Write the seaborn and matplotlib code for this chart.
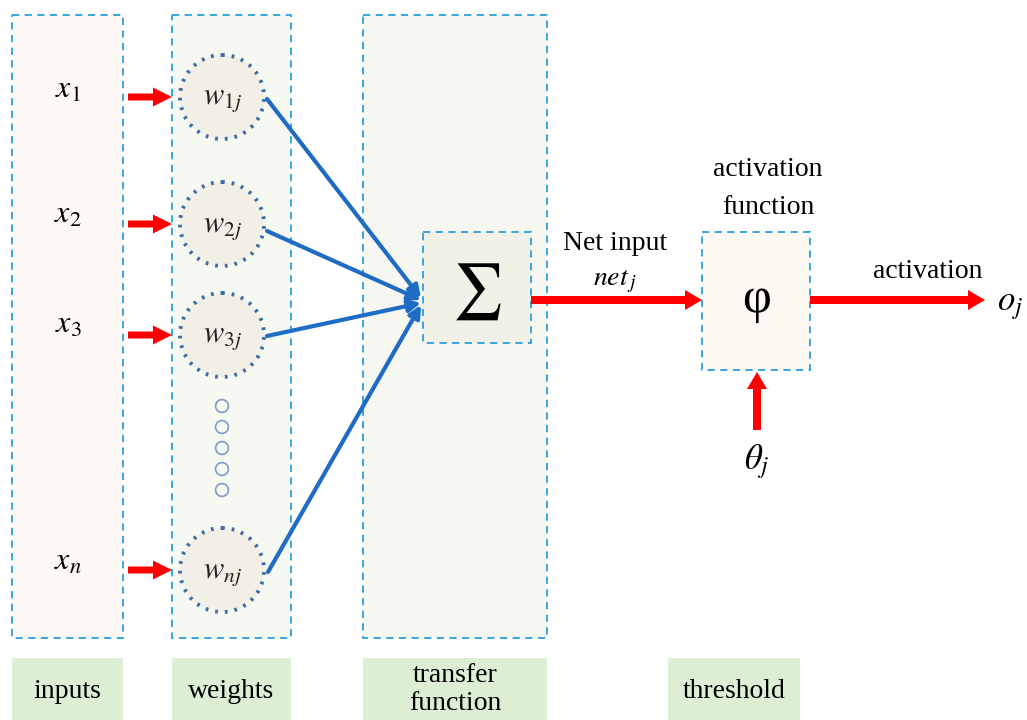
import matplotlib
matplotlib.use("Agg")
import matplotlib.pyplot as plt
import seaborn as sns
from matplotlib.patches import Rectangle, Circle, FancyArrow

# labels / content
input_labels = [r"$x_1$", r"$x_2$", r"$x_3$", r"$x_n$"]
weight_labels = [r"$w_{1j}$", r"$w_{2j}$", r"$w_{3j}$", r"$w_{nj}$"]
stage_labels = ["inputs", "weights", "transfer\nfunction", "threshold"]

# layout (pixel coordinates, y downward)
row_y = [97, 224, 335, 570]
label_y = [90, 215, 325, 562]
dots_y = [406, 427, 448, 469, 490]
stage_x = [(12, 123), (172, 291), (363, 547), (668, 800)]

sns.set_theme(style="white")
plt.rcParams["font.family"] = ["Liberation Serif", "DejaVu Serif"]
plt.rcParams["mathtext.fontset"] = "stix"
plt.rcParams["text.color"] = "black"

fig = plt.figure(figsize=(10.27, 7.2), dpi=100)
ax = fig.add_axes([0, 0, 1, 1])

dash = "#2a9fdc"
red = "#ff0000"
blue = "#1f6cc4"

def dbox(x0, y0, x1, y1, fc):
    ax.add_patch(Rectangle((x0, y0), x1 - x0, y1 - y0, fc=fc, ec=dash,
                           lw=1.3, ls=(0, (4, 3)), zorder=1))

def red_arrow(x, y, dx, dy, w=8, hw=20, hl=17):
    ax.add_patch(FancyArrow(x, y, dx, dy, width=w, head_width=hw, head_length=hl,
                            length_includes_head=True, color=red, lw=0, zorder=4))

# ellipsis dots between w3j and wnj
sns.scatterplot(x=[222] * len(dots_y), y=dots_y, ax=ax, s=85, marker="o",
                fc="none", ec="#7a9cc6", linewidth=1.2, zorder=3, legend=False)

dbox(12, 15, 123, 638, "#fdf8f5")
dbox(172, 15, 291, 638, "#f6f8f2")
dbox(363, 15, 547, 638, "#f6f7f0")
dbox(423, 232, 531, 343, "#f1f1e7")
dbox(702, 232, 810, 370, "#fcf8f2")

# bottom stage label boxes
for (x0, x1), lab in zip(stage_x, stage_labels):
    ax.add_patch(Rectangle((x0, 658), x1 - x0, 80, fc="#dcefd4", ec="none", zorder=1))
    if "\n" in lab:
        a, b = lab.split("\n")
        ax.text((x0 + x1) / 2, 675, a, ha="center", va="center", fontsize=20)
        ax.text((x0 + x1) / 2, 704, b, ha="center", va="center", fontsize=20)
    else:
        ax.text((x0 + x1) / 2, 692, lab, ha="center", va="center", fontsize=20)

# inputs, arrows, weight circles
for lab, wl, ry, ly in zip(input_labels, weight_labels, row_y, label_y):
    ax.text(68, ly, lab, ha="center", va="center", fontsize=23)
    red_arrow(128, ry, 44, 0, w=7, hw=19, hl=19)
    ax.add_patch(Circle((222, ry), 42, fc="#f2f0e6", ec="#3b6ca3", lw=2.8,
                        ls=(0, (0.7, 1.8)), zorder=3))
    ax.text(222, ry + 3, wl, ha="center", va="center", fontsize=22, color="#222222", zorder=5)

# blue connections into sigma
starts = [(267, 99), (267, 231), (267, 336), (268, 572)]
ends = [(421, 298), (421, 300), (421, 303), (421, 305)]
for (sx, sy), (ex, ey) in zip(starts, ends):
    ax.annotate("", xy=(ex, ey), xytext=(sx, sy),
                arrowprops=dict(arrowstyle="-|>", color=blue, lw=3.0,
                                mutation_scale=18, shrinkA=0, shrinkB=0), zorder=4)

# sigma & phi
ax.text(477, 292, r"$\sum$", ha="center", va="center", fontsize=40, zorder=5)
ax.text(757, 300, "\u03c6", ha="center", va="center", fontsize=36, zorder=5)

# net input arrow
red_arrow(531, 300, 171, 0, w=8, hw=20, hl=17)
ax.text(615, 243, "Net input", ha="center", va="center", fontsize=20)
ax.text(615, 282, r"$net_{\,j}$", ha="center", va="center", fontsize=20)

# activation function label
ax.text(768, 170, "activation", ha="center", va="center", fontsize=20)
ax.text(768, 207, "function", ha="center", va="center", fontsize=20)

# output arrow
red_arrow(810, 300, 175, 0, w=8, hw=20, hl=17)
ax.text(928, 272, "activation", ha="center", va="center", fontsize=20)
ax.text(1010, 305, r"$o_j$", ha="center", va="center", fontsize=25)

# threshold arrow
red_arrow(757, 430, 0, -58, w=8, hw=20, hl=17)
ax.text(757, 462, r"$\theta_j$", ha="center", va="center", fontsize=25)

ax.set_xlim(0, 1027)
ax.set_ylim(720, 0)
ax.set_aspect("equal")
ax.axis("off")

fig.savefig("out.png", dpi=100)
